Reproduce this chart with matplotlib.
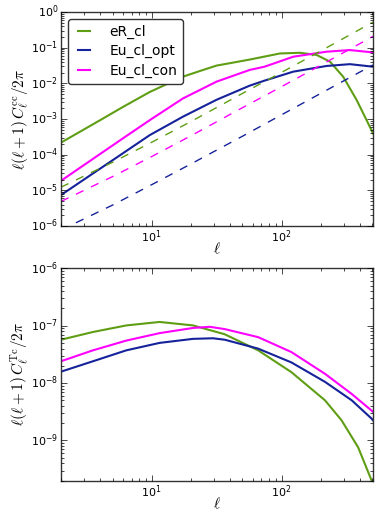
import numpy as np
import matplotlib
matplotlib.use('Agg')
import matplotlib.pyplot as plt

plt.style.use('classic')
plt.rcParams.update({'font.size': 8, 'mathtext.fontset': 'cm',
                     'axes.edgecolor': '#333333'})

green = '#5f9e14'
blue = '#16229a'
magenta = '#ff00ff'

# top panel: l(l+1) C_l^cc / 2pi
ell_eR = [2, 4, 6, 9.65, 17.4, 24, 31.5, 57, 97, 138, 186, 236, 298, 378, 452, 506]
eR_cl = [2.19e-4, 9.3e-4, 2.19e-3, 5.75e-3, 1.55e-2, 2.29e-2, 3.16e-2, 4.68e-2,
         6.92e-2, 7.24e-2, 6.31e-2, 4.07e-2, 1.55e-2, 3.47e-3, 9.3e-4, 3.98e-4]
ell_Eu = [2, 4, 6, 9.65, 17.4, 31.5, 57, 74, 123, 222, 336, 506]
Eu_cl_opt = [7.41e-6, 4.07e-5, 1.10e-4, 3.55e-4, 1.17e-3, 3.47e-3, 8.71e-3,
             1.20e-2, 2.14e-2, 3.09e-2, 3.47e-2, 2.95e-2]
Eu_cl_con = [1.86e-5, 1.05e-4, 2.88e-4, 9.33e-4, 3.80e-3, 1.12e-2, 2.40e-2,
             2.95e-2, 5.62e-2, 7.76e-2, 8.63e-2, 7.41e-2]

# noise curves (dashed)
ell_noise = [2, 5, 10, 20, 50, 100, 200, 506]
eR_noise = [1.23e-5, 6.17e-5, 2.24e-4, 8.51e-4, 5.25e-3, 2.04e-2, 8.13e-2, 5.25e-1]
Eu_opt_noise = [7.76e-7, 3.89e-6, 1.45e-5, 5.50e-5, 3.31e-4, 1.32e-3, 5.25e-3, 3.31e-2]
Eu_con_noise = [4.90e-6, 2.45e-5, 8.91e-5, 3.39e-4, 2.09e-3, 8.13e-3, 3.24e-2, 2.09e-1]

# bottom panel: l(l+1) C_l^Tc / 2pi
ell_eR_Tc = [2, 3.53, 6.38, 11.5, 20.8, 36.5, 66, 119, 216, 290, 389, 494, 506]
eR_Tc = [5.69e-8, 7.76e-8, 1.01e-7, 1.16e-7, 1.01e-7, 7.08e-8, 3.72e-8,
         1.55e-8, 5.01e-9, 2.24e-9, 7.59e-10, 2.0e-10, 1.6e-10]
ell_opt_Tc = [2, 3.53, 6.38, 11.5, 20.8, 29.6, 36.5, 66, 119, 216, 347, 494, 506]
Eu_opt_Tc = [1.58e-8, 2.40e-8, 3.72e-8, 5.01e-8, 5.89e-8, 6.03e-8, 5.69e-8,
             3.98e-8, 2.29e-8, 1.05e-8, 5.01e-9, 2.40e-9, 2.24e-9]
ell_con_Tc = [2, 3.53, 6.38, 11.5, 20.8, 28, 36.5, 66, 119, 216, 347, 494, 506]
Eu_con_Tc = [2.40e-8, 3.72e-8, 5.50e-8, 7.41e-8, 9.12e-8, 9.55e-8, 8.71e-8,
             6.31e-8, 3.47e-8, 1.45e-8, 6.46e-9, 3.31e-9, 3.16e-9]

fig = plt.figure(figsize=(3.81, 5.27), dpi=100, facecolor='white')
ax1 = fig.add_axes([0.160, 0.571, 0.819, 0.406])
ax2 = fig.add_axes([0.160, 0.088, 0.819, 0.403])

ax1.loglog(ell_eR, eR_cl, color=green, lw=1.5, label='eR_cl')
ax1.loglog(ell_Eu, Eu_cl_opt, color=blue, lw=1.5, label='Eu_cl_opt')
ax1.loglog(ell_Eu, Eu_cl_con, color=magenta, lw=1.5, label='Eu_cl_con')
ax1.loglog(ell_noise, eR_noise, '--', color=green, lw=1)
ax1.loglog(ell_noise, Eu_opt_noise, '--', color=blue, lw=1)
ax1.loglog(ell_noise, Eu_con_noise, '--', color=magenta, lw=1)
ax1.set_xlim(2, 506)
ax1.set_ylim(1e-6, 1)
ax1.set_xlabel(r'$\ell$', fontsize=11, labelpad=-3)
ax1.set_ylabel(r'$\ell(\ell+1)\,C_\ell^{\rm cc}/2\pi$', fontsize=11, labelpad=0)
leg = ax1.legend(loc='upper left', fontsize=10, handlelength=1.5,
                 handletextpad=1.1, fancybox=True, borderpad=0.4,
                 labelspacing=0.4)
leg.get_frame().set_linewidth(1.0)

ax2.loglog(ell_eR_Tc, eR_Tc, color=green, lw=1.5)
ax2.loglog(ell_opt_Tc, Eu_opt_Tc, color=blue, lw=1.5)
ax2.loglog(ell_con_Tc, Eu_con_Tc, color=magenta, lw=1.5)
ax2.set_xlim(2, 506)
ax2.set_ylim(2e-10, 1e-6)
ax2.set_xlabel(r'$\ell$', fontsize=11, labelpad=-3)
ax2.set_ylabel(r'$\ell(\ell+1)\,C_\ell^{\rm Tc}/2\pi$', fontsize=11, labelpad=0)

for ax in (ax1, ax2):
    ax.tick_params(which='both', direction='in', labelsize=8, pad=2)

fig.savefig('out.png', dpi=100)
